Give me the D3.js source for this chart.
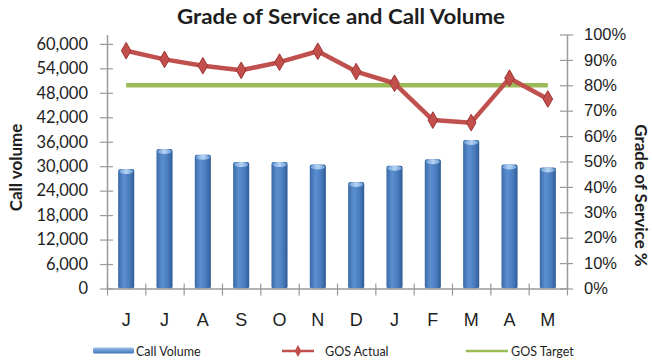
<!DOCTYPE html>
<html>
<head>
<meta charset="utf-8">
<script src="https://cdn.jsdelivr.net/npm/d3@7/dist/d3.min.js"></script>
<style>
  html, body { margin: 0; padding: 0; background: #fff; }
  svg { display: block; font-family: Lato, "Open Sans", sans-serif; }
</style>
</head>
<body>
<svg id="chart" width="652" height="360"></svg>
<script>
// Monthly call volume and grade-of-service figures
const months = ["J", "J", "A", "S", "O", "N", "D", "J", "F", "M", "A", "M"];
const callVolume = [29300, 34200, 32800, 31000, 31000, 30400, 26100, 30100, 31700, 36400, 30400, 29700];
const gosActual = [0.936, 0.902, 0.877, 0.859, 0.891, 0.934, 0.854, 0.808, 0.663, 0.653, 0.828, 0.746];
const gosTarget = [0.80, 0.80, 0.80, 0.80, 0.80, 0.80, 0.80, 0.80, 0.80, 0.80, 0.80, 0.80];
const volumeTicks = [0, 6000, 12000, 18000, 24000, 30000, 36000, 42000, 48000, 54000, 60000];
const percentTicks = [0, 0.1, 0.2, 0.3, 0.4, 0.5, 0.6, 0.7, 0.8, 0.9, 1.0];
const legendItems = ["Call Volume", "GOS Actual", "GOS Target"];

const svg = d3.select("#chart");
const plot = { left: 107, right: 567, top: 34.5, bottom: 288.5 };

const x = d3.scaleBand().domain(d3.range(months.length)).range([plot.left, plot.right]).padding(0);
const yL = d3.scaleLinear().domain([0, 62300]).range([plot.bottom, plot.top]);
const yR = d3.scaleLinear().domain([0, 1]).range([plot.bottom, plot.top]);
const cx = i => x(i) + x.bandwidth() / 2;
const barW = x.bandwidth() * 0.42;

const defs = svg.append("defs");
const barGrad = defs.append("linearGradient").attr("id", "barGrad").attr("x1", "0").attr("x2", "1").attr("y1", "0").attr("y2", "0");
barGrad.append("stop").attr("offset", "0%").attr("stop-color", "#3b6aa6");
barGrad.append("stop").attr("offset", "35%").attr("stop-color", "#5b8fd0");
barGrad.append("stop").attr("offset", "70%").attr("stop-color", "#4a7dbf");
barGrad.append("stop").attr("offset", "100%").attr("stop-color", "#2f5c96");
const capGrad = defs.append("linearGradient").attr("id", "capGrad").attr("x1", "0").attr("x2", "1");
capGrad.append("stop").attr("offset", "0%").attr("stop-color", "#6f9fd8");
capGrad.append("stop").attr("offset", "50%").attr("stop-color", "#b6d3f3");
capGrad.append("stop").attr("offset", "100%").attr("stop-color", "#6f9fd8");
const legGrad = defs.append("linearGradient").attr("id", "legGrad").attr("x1", "0").attr("x2", "0").attr("y1", "0").attr("y2", "1");
legGrad.append("stop").attr("offset", "0%").attr("stop-color", "#9cc0ea");
legGrad.append("stop").attr("offset", "100%").attr("stop-color", "#3f72b4");

const axisColor = "#9a9a9a";
const textColor = "#1e1e1e";

// Title
svg.append("text")
  .attr("x", 341).attr("y", 24)
  .attr("text-anchor", "middle")
  .attr("font-size", 21).attr("font-weight", "bold").attr("fill", textColor)
  .attr("textLength", 328).attr("lengthAdjust", "spacingAndGlyphs")
  .text("Grade of Service and Call Volume");

// Bars (cylinder-like columns)
const bars = svg.append("g");
bars.selectAll("rect").data(callVolume).join("rect")
  .attr("x", (d, i) => cx(i) - barW / 2)
  .attr("y", d => yL(d))
  .attr("width", barW)
  .attr("height", d => yL(0) - yL(d))
  .attr("rx", 2)
  .attr("fill", "url(#barGrad)");
bars.selectAll("ellipse").data(callVolume).join("ellipse")
  .attr("cx", (d, i) => cx(i))
  .attr("cy", d => yL(d) + 2.5)
  .attr("rx", barW / 2 - 1)
  .attr("ry", 2.5)
  .attr("fill", "url(#capGrad)");

// Left axis
const gL = svg.append("g").attr("transform", `translate(${plot.left},0)`)
  .call(d3.axisLeft(yL).tickValues(volumeTicks).tickFormat(d3.format(",")).tickSizeOuter(0).tickSizeInner(0).tickPadding(19));
gL.select(".domain").attr("stroke", axisColor).attr("stroke-width", 1.5);
gL.selectAll(".tick line").attr("x1", -7).attr("x2", 6).attr("stroke", axisColor).attr("stroke-width", 1.2);
gL.selectAll(".tick text").attr("font-size", 16.5).attr("fill", textColor).attr("font-family", "Lato, sans-serif");

// Right axis
const gR = svg.append("g").attr("transform", `translate(${plot.right},0)`)
  .call(d3.axisRight(yR).tickValues(percentTicks).tickFormat(d3.format(".0%")).tickSizeOuter(0).tickSizeInner(0).tickPadding(17));
gR.select(".domain").attr("stroke", axisColor).attr("stroke-width", 1.5);
gR.selectAll(".tick line").attr("x1", -7).attr("x2", 6).attr("stroke", axisColor).attr("stroke-width", 1.2);
gR.selectAll(".tick text").attr("font-size", 16.5).attr("fill", textColor);

// Bottom axis: boundary ticks between months, labels centred under each month
const xEdge = d3.scaleLinear().domain([0, months.length]).range([plot.left, plot.right]);
const gB = svg.append("g").attr("transform", `translate(0,${plot.bottom})`)
  .call(d3.axisBottom(xEdge).tickValues(d3.range(months.length + 1)).tickFormat("").tickSizeOuter(0).tickSizeInner(0));
gB.select(".domain").attr("stroke", axisColor).attr("stroke-width", 1.5);
gB.selectAll(".tick line").attr("y1", -5).attr("y2", 7).attr("stroke", axisColor).attr("stroke-width", 1.2);
const gM = svg.append("g").attr("transform", `translate(0,${plot.bottom})`)
  .call(d3.axisBottom(x).tickFormat(i => months[i]).tickSize(0).tickPadding(25));
gM.select(".domain").remove();
gM.selectAll(".tick text").attr("font-size", 18).attr("fill", textColor);

// Target line
const line = d3.line().x((d, i) => cx(i)).y(d => yR(d));
svg.append("path").datum(gosTarget)
  .attr("d", line).attr("fill", "none")
  .attr("stroke", "#9bbb59").attr("stroke-width", 4.5);

// Actual GOS line with diamond markers
svg.append("path").datum(gosActual)
  .attr("d", line).attr("fill", "none")
  .attr("stroke", "#c0504d").attr("stroke-width", 4.5).attr("stroke-linejoin", "round");
const diamond = d3.symbol().type(d3.symbolDiamond).size(80);
svg.append("g").selectAll("path").data(gosActual).join("path")
  .attr("transform", (d, i) => `translate(${cx(i)},${yR(d)})`)
  .attr("d", diamond)
  .attr("fill", "#c24f4b").attr("stroke", "#9e3532").attr("stroke-width", 1);

// Axis titles
svg.append("text")
  .attr("transform", `translate(22,${(plot.top + plot.bottom) / 2 + 6}) rotate(-90)`)
  .attr("text-anchor", "middle").attr("font-size", 17).attr("font-weight", "bold").attr("fill", textColor)
  .text("Call volume");
svg.append("text")
  .attr("transform", `translate(635,${(plot.top + plot.bottom) / 2 + 34}) rotate(90)`)
  .attr("text-anchor", "middle").attr("font-size", 17).attr("font-weight", "bold").attr("fill", textColor)
  .text("Grade of Service %");

// Legend
const leg = svg.append("g").attr("font-size", 12.5).attr("fill", textColor);
const legY = 351;
leg.append("rect").attr("x", 93).attr("y", legY - 3.5).attr("width", 41).attr("height", 6).attr("rx", 1.5).attr("fill", "url(#legGrad)");
leg.append("text").attr("x", 136).attr("y", legY + 4.5).text(legendItems[0]);
leg.append("line").attr("x1", 282).attr("x2", 314).attr("y1", legY).attr("y2", legY).attr("stroke", "#c0504d").attr("stroke-width", 2.5);
leg.append("path").attr("transform", `translate(298,${legY})`).attr("d", d3.symbol().type(d3.symbolDiamond).size(40)).attr("fill", "#c24f4b");
leg.append("text").attr("x", 325).attr("y", legY + 4.5).text(legendItems[1]);
leg.append("line").attr("x1", 466).attr("x2", 508).attr("y1", legY).attr("y2", legY).attr("stroke", "#9bbb59").attr("stroke-width", 2.5);
leg.append("text").attr("x", 511).attr("y", legY + 4.5).text(legendItems[2]);
</script>
</body>
</html>
